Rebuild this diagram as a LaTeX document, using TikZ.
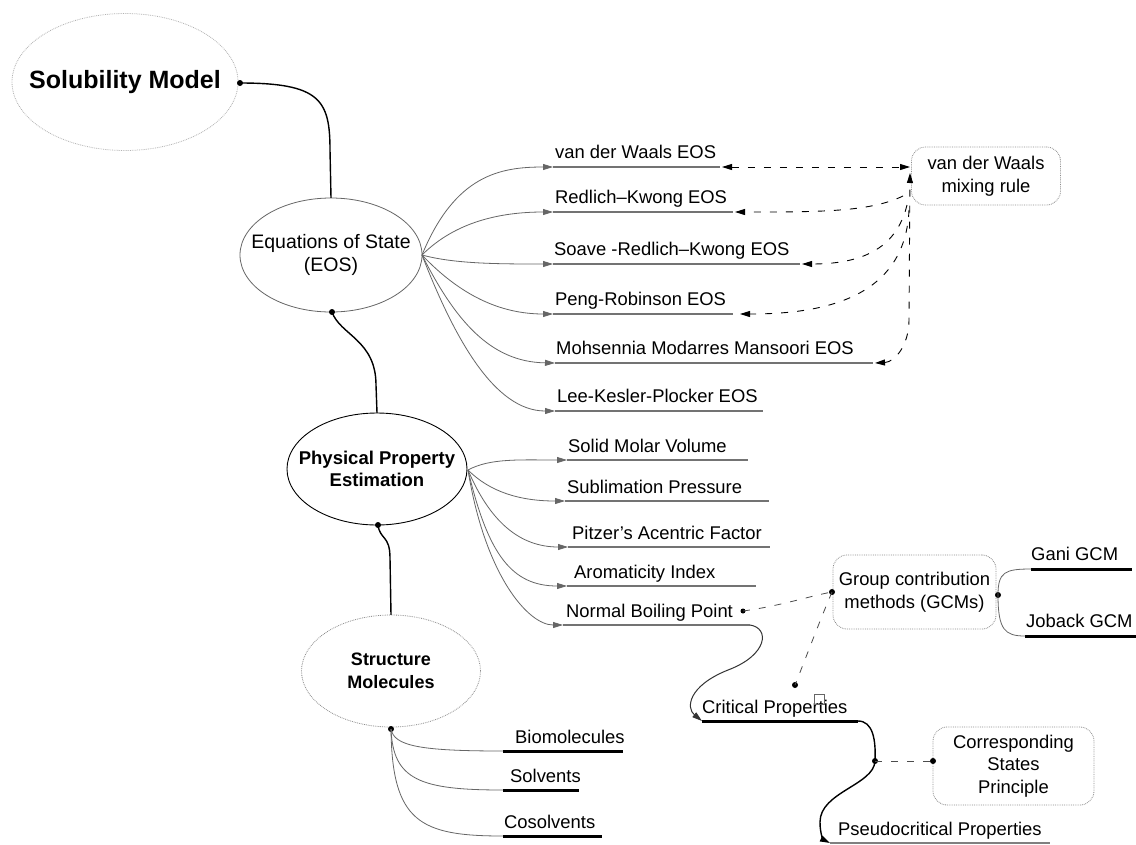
\documentclass[tikz,border=0pt]{standalone}
\usepackage{fontspec}
\setmainfont{Liberation Sans}
\usetikzlibrary{shapes.geometric,arrows.meta}
\begin{document}
\begin{tikzpicture}[x=1pt,y=-1pt,
  lbl/.style={font=\fontsize{18.4}{22.5}\selectfont, inner sep=0pt, anchor=base west},
  ell/.style={rectangle, inner sep=0pt, align=center},
  rbox/.style={rounded corners=14pt, draw=black!45, densely dotted, line width=0.8pt, align=center, font=\fontsize{18.4}{22.5}\selectfont, inner sep=0pt},
  ulg/.style={line width=2.6pt, black!55},
  ulb/.style={line width=3pt, black},
  fan/.style={black!60, line width=0.8pt, -{Triangle[length=10pt,width=6pt]}},
  thin/.style={black!60, line width=0.8pt},
  main/.style={black, line width=1.4pt},
  mixd/.style={black, line width=0.9pt, dash pattern=on 7pt off 9pt},
  tri/.tip={Triangle[length=10pt,width=6pt]},
  dotn/.style={circle, fill=black, inner sep=0pt, minimum size=6pt}
]
\fill[white] (0,0) rectangle (1136,844);
\useasboundingbox (0,0) rectangle (1136,844);

% ---- main nodes (text boxes, ellipses drawn round them)
\node[ell, minimum width=226pt, minimum height=137pt,
      font=\fontsize{25}{30}\selectfont\bfseries] (sol) at (125,82) {Solubility Model};
\draw[black!30, densely dotted, line width=0.8pt] (sol.center) ellipse [x radius=113pt, y radius=68.5pt];
\node[ell, minimum width=182pt, minimum height=114pt,
      font=\fontsize{19.5}{23.5}\selectfont] (eos) at (331,255) {Equations of State\\(EOS)};
\draw[black!60, line width=0.8pt] (eos.center) ellipse [x radius=91pt, y radius=57pt];
\node[ell, minimum width=180pt, minimum height=112pt,
      font=\fontsize{18.5}{22.5}\selectfont\bfseries] (ppe) at (377,469) {Physical Property\\Estimation};
\draw[black, line width=0.9pt] (ppe.center) ellipse [x radius=90pt, y radius=56pt];
\node[ell, minimum width=179pt, minimum height=112pt,
      font=\fontsize{18}{22.5}\selectfont\bfseries] (stm) at (391,671) {Structure\\Molecules};
\draw[black!45, densely dotted, line width=0.8pt] (stm.center) ellipse [x radius=89.5pt, y radius=56pt];

\node[rbox, minimum width=149pt, minimum height=58pt] (mix) at (986,176) {van der Waals\\mixing rule};
\node[rbox, minimum width=163pt, minimum height=74pt] (gcm) at (914.5,592) {Group contribution\\methods (GCMs)};
\node[rbox, minimum width=161pt, minimum height=78pt] (csp) at (1013.5,766) {Corresponding\\States\\Principle};

% ---- dots
\node[dotn] (solD) at (240,83) {};
\node[dotn] (eosD) at (332,312) {};
\node[dotn] (ppeD) at (378,525) {};
\node[dotn] (stmD) at (391,729) {};
\node[dotn, minimum size=5pt] (nbpD) at (743,611) {};
\node[dotn] (gcmL) at (832,592) {};
\node[dotn] (gcmR) at (998,595) {};
\node[dotn] (crD) at (795,685) {};
\node[dotn] (cspL) at (933,761) {};
\node[dotn] (crpD) at (875,761) {};

% ---- main spine
\draw[main] (solD.center) .. controls (320,83) and (330,100) .. (330,150) -- (eos.north);
\draw[main] (eosD.center) .. controls (340,335) and (376,340) .. (376,385) -- (ppe.north);
\draw[main] (ppeD.center) .. controls (380,540) and (390,535) .. (390,558) -- (stm.north);

% ---- EOS leaves
\foreach \n/\y/\xl/\xr/\xt/\t in {
  vdw/167/553/720/555/{van der Waals EOS},
  rk/212/553/733/555/{Redlich–Kwong EOS},
  srk/264/553/800/554/{Soave -Redlich–Kwong EOS},
  pr/314/553/733/555/{Peng-Robinson EOS},
  mmm/363/555/873/556/{Mohsennia Modarres Mansoori EOS},
  lkp/411/555/763/557/{Lee-Kesler-Plocker EOS}}{
  \coordinate (\n L) at (\xl,\y);
  \coordinate (\n R) at (\xr,\y);
  \draw[ulg] (\n L) -- (\n R);
  \node[lbl] (\n) at (\xt,\y-9) {\t};
}
\coordinate (eosR) at (422,255);
\draw[fan] (eosR) .. controls (455,175) and (500,167) .. (vdwL);
\draw[fan] (eosR) .. controls (455,222) and (500,212) .. (rkL);
\draw[fan] (eosR) .. controls (455,264) and (500,264) .. (srkL);
\draw[fan] (eosR) .. controls (460,295) and (500,314) .. (prL);
\draw[fan] (eosR) .. controls (455,320) and (490,362) .. (mmmL);
\draw[fan] (eosR) .. controls (455,340) and (495,411) .. (lkpL);

% ---- mixing rule connectors
\coordinate (mixA) at (910,167);
\coordinate (mixB) at (903,196);
\coordinate (mixC) at (907,205);
\coordinate (mixD) at (909,210);
\coordinate (mixE) at (910,173);
\coordinate (vdwRa) at (722,167);
\coordinate (rkRa) at (735,212);
\coordinate (srkRa) at (802,264);
\coordinate (prRa) at (740,314);
\coordinate (mmmRa) at (875,363);
\draw[mixd, tri-tri] (vdwRa) -- (mixA);
\draw[mixd, -tri] (mixB) .. controls (870,212) and (820,212) .. (rkRa);
\draw[mixd, -tri] (mixC) .. controls (896,250) and (860,264) .. (srkRa);
\draw[mixd, -tri] (mixD) .. controls (905,300) and (820,314) .. (prRa);
\draw[mixd, tri-tri] (mmmRa) .. controls (895,362) and (909,345) .. (909,320) -- (mixE);

% ---- PPE leaves
\foreach \n/\y/\xl/\xr/\xt/\t in {
  smv/460/567/748/568/{Solid Molar Volume},
  sbp/501/565/769/567/{Sublimation Pressure},
  pit/547/568/770/572/{Pitzer's Acentric Factor},
  aro/586/567/756/574/{Aromaticity Index},
  nbp/625/563/750/566/{Normal Boiling Point}}{
  \coordinate (\n L) at (\xl,\y);
  \coordinate (\n R) at (\xr,\y);
  \draw[ulg] (\n L) -- (\n R);
  \node[lbl] (\n) at (\xt,\y-8) {\t};
}
\coordinate (ppeR) at (468,470);
\draw[fan] (ppeR) .. controls (490,458) and (520,460) .. (smvL);
\draw[fan] (ppeR) .. controls (490,492) and (520,501) .. (sbpL);
\draw[fan] (ppeR) .. controls (490,522) and (520,547) .. (pitL);
\draw[fan] (ppeR) .. controls (488,555) and (512,586) .. (aroL);
\draw[fan] (ppeR) .. controls (485,575) and (528,625) .. (nbpL);

% ---- Structure leaves
\foreach \n/\y/\xl/\xr/\xt/\t in {
  bio/751/503/623/515/{Biomolecules},
  sol2/790/503/579/510/{Solvents},
  cos/836/503/602/504/{Cosolvents}}{
  \coordinate (\n L) at (\xl,\y);
  \coordinate (\n R) at (\xr,\y);
  \draw[ulb] (\n L) -- (\n R);
  \node[lbl] (\n) at (\xt,\y-8) {\t};
}
\draw[thin] (stmD.center) .. controls (394,746) and (420,751) .. (bioL);
\draw[thin] (stmD.center) .. controls (393,780) and (420,790) .. (sol2L);
\draw[thin] (stmD.center) .. controls (392,822) and (420,836) .. (cosL);

% ---- GCM
\draw[mixd, black!70, line width=0.8pt] (nbpD.center) .. controls (780,606) and (810,596) .. (gcmL.center);
\draw[mixd, black!70, line width=0.8pt] (gcmL.center) .. controls (820,620) and (805,660) .. (crD.center);

\coordinate (ganL) at (1031,569); \coordinate (ganR) at (1132,569);
\coordinate (jobL) at (1025,636); \coordinate (jobR) at (1136,636);
\draw[ulb] (ganL) -- (ganR);
\draw[ulb] (jobL) -- (jobR);
\node[lbl] (gani) at (1031,560) {Gani GCM};
\node[lbl] (joback) at (1026,627) {Joback GCM};
\draw[thin] (gcmR.center) .. controls (998,572) and (1005,569) .. (ganL);
\draw[thin] (gcmR.center) .. controls (998,630) and (1005,636) .. (jobL);

% ---- Critical / Pseudocritical
\coordinate (crL) at (702,721); \coordinate (crR) at (858,721);
\draw[ulb] (crL) -- (crR);
\node[lbl] (crit) at (702,713) {Critical Properties};
\node[draw=black!60, line width=0.6pt, minimum size=10pt, inner sep=0pt] (sq) at (819,699) {};

\coordinate (psL) at (830,843); \coordinate (psR) at (1050,843);
\draw[line width=2pt, black!50] (psL) -- (psR);
\node[lbl] (pseudo) at (838,835) {Pseudocritical Properties};

\draw[black!80, line width=1pt, -tri] (nbpR) .. controls (770,628) and (768,655) .. (728,670)
   .. controls (688,686) and (686,708) .. (crL);
\draw[main, -tri] (crR) .. controls (873,721) and (876,740) .. (crpD.center)
   .. controls (874,785) and (820,792) .. (820,822) .. controls (820,835) and (824,840) .. (psL);
\draw[mixd, black!70, line width=0.8pt] (crpD.center) -- (cspL.center);
\end{tikzpicture}
\end{document}
